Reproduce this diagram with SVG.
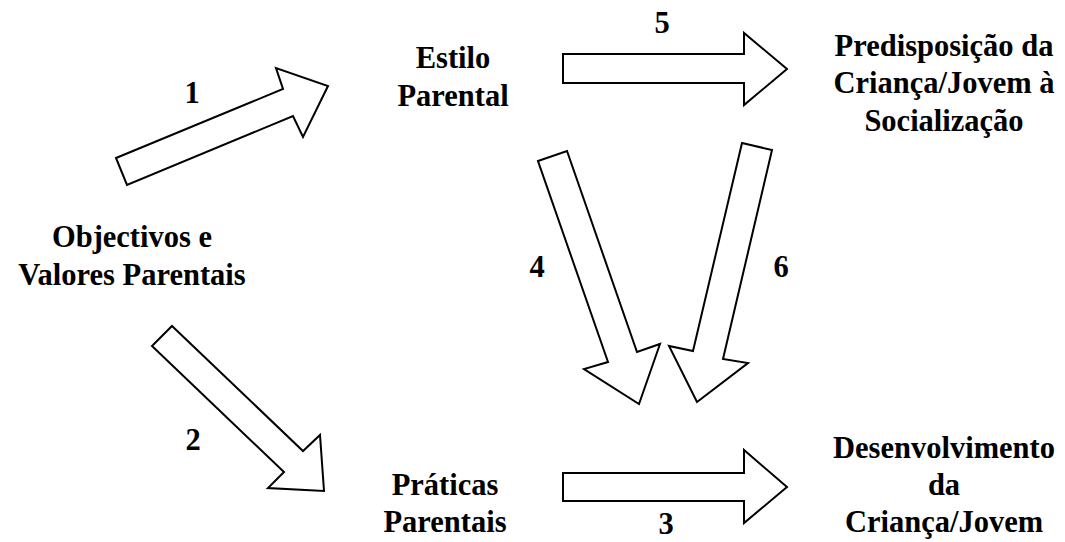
<svg xmlns="http://www.w3.org/2000/svg" width="1065" height="542" viewBox="0 0 1065 542">
<style>
.t{font-family:"Liberation Serif","Times New Roman",serif;font-weight:bold;font-size:30.5px;fill:#000;text-anchor:middle}
.a{fill:#fff;stroke:#000;stroke-width:2;stroke-linejoin:miter}
</style>
<rect width="1065" height="542" fill="#fff"/>
<g id="connectors">
<polygon class="a" points="116,158 283,89 276,68 328,86 303,137 293,116 127,185"/>
<polygon class="a" points="172,326 303,451 320,435 324,491 268,488 284,472 152,346"/>
<polygon class="a" points="538,161 567,151 637,352 660,344 639,404 584,369 608,362"/>
<polygon class="a" points="742,143 772,150 723,359 748,363 697,402 669,346 693,351"/>
<polygon class="a" points="563,54 744,54 744,33 787,69 744,105 744,83 563,83"/>
<polygon class="a" points="563,473 744,473 744,450 787,487 744,523 744,501 563,501"/>
<text class="t" x="192" y="103">1</text>
<text class="t" x="193" y="450">2</text>
<text class="t" x="666" y="534">3</text>
<text class="t" x="537" y="277">4</text>
<text class="t" x="781" y="277">6</text>
<text class="t" x="662" y="33">5</text>
</g>
<g id="objectivos"><text class="t" x="132" y="247">Objectivos e</text><text class="t" x="132" y="285">Valores Parentais</text></g>
<g id="estilo"><text class="t" x="453" y="68">Estilo</text><text class="t" x="453" y="106">Parental</text></g>
<g id="predisposicao"><text class="t" x="944" y="56">Predisposição da</text><text class="t" x="944" y="93">Criança/Jovem à</text><text class="t" x="944" y="131">Socialização</text></g>
<g id="praticas"><text class="t" x="445" y="495">Práticas</text><text class="t" x="445" y="532">Parentais</text></g>
<g id="desenvolvimento"><text class="t" x="944" y="458">Desenvolvimento</text><text class="t" x="944" y="495">da</text><text class="t" x="944" y="532">Criança/Jovem</text></g>
</svg>
